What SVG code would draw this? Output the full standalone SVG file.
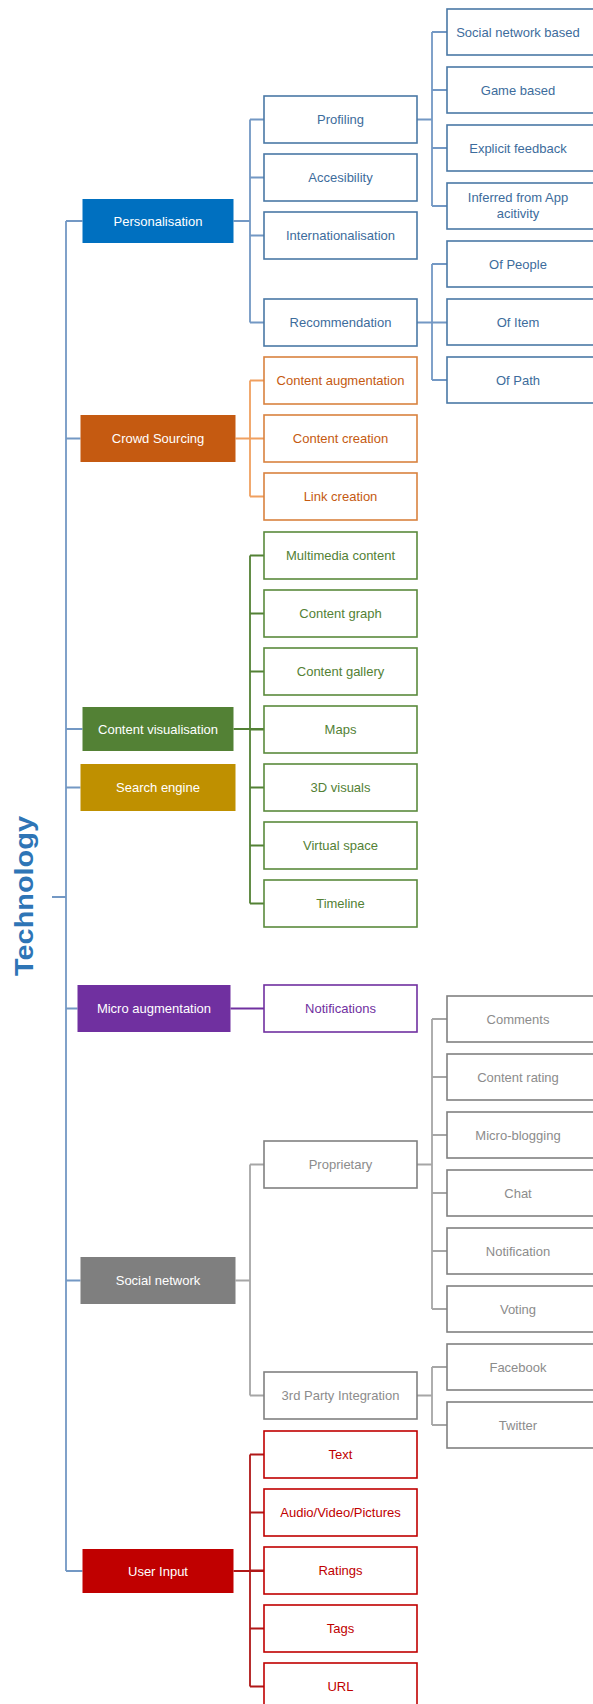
<svg xmlns="http://www.w3.org/2000/svg" width="593" height="1704" viewBox="0 0 593 1704">
<style>
text{font-family:"Liberation Sans",Arial,sans-serif;font-size:13px;text-anchor:middle}
.l1 text{fill:#fff}
.b rect{fill:#fff;stroke:#4a78a6;stroke-width:1.6} .b text{fill:#3d6c9c}
.o rect{fill:#fff;stroke:#d9823f;stroke-width:1.6} .o text{fill:#c55a11}
.g rect{fill:#fff;stroke:#5a8a3c;stroke-width:1.6} .g text{fill:#538135}
.p rect{fill:#fff;stroke:#7030a0;stroke-width:1.6} .p text{fill:#7030a0}
.k rect{fill:#fff;stroke:#808080;stroke-width:1.6} .k text{fill:#8c8c8c}
.r rect{fill:#fff;stroke:#c00000;stroke-width:1.6} .r text{fill:#c00000}
#connectors path{fill:none;stroke-width:1.8}
.cb{stroke:#7398c4} .co{stroke:#f0a060} .cg{stroke:#538135} .cp{stroke:#7030a0} .ck{stroke:#a6a6a6} .cr{stroke:#b01818}
</style>
<g id="connectors">
<path class="cb" d="M52 897H66M66 221V1571M66 221H82.5M66 438.5H80.5M66 729H82.5M66 787.5H80.5M66 1008.5H77.5M66 1280.5H80.5M66 1571H82.5"/>
<path class="cb" d="M233.5 221H250M250 119.5V322.5M250 119.5H264M250 177.5H264M250 235.5H264M250 322.5H264"/>
<path class="cb" d="M417 119.5H432M432 32V206M432 32H447M432 90H447M432 148H447M432 206H447"/>
<path class="cb" d="M417 322.5H447M432 264V380M432 264H447M432 380H447"/>
<path class="co" d="M235.5 438.5H264M250 380.5V496.5M250 380.5H264M250 496.5H264"/>
<path class="cg" d="M233.5 729H264M250 555.5V903.5M250 555.5H266M250 613.5H266M250 671.5H266M250 729.5H266M250 787.5H266M250 845.5H266M250 903.5H266"/>
<path class="cp" d="M230.5 1008.5H264"/>
<path class="ck" d="M235.5 1280.5H250M250 1164.5V1395.5M250 1164.5H264M250 1395.5H264"/>
<path class="ck" d="M417 1164.5H432M432 1019V1309M432 1019H447M432 1077H447M432 1135H447M432 1193H447M432 1251H447M432 1309H447"/>
<path class="ck" d="M417 1395.5H432M432 1367V1425M432 1367H447M432 1425H447"/>
<path class="cr" d="M233.5 1571H264M250 1454.5V1686.5M250 1454.5H266M250 1512.5H266M250 1570.5H266M250 1628.5H266M250 1686.5H266"/>
</g>
<g id="technology"><text transform="translate(33 896) rotate(-90)" style="font-size:25px;font-weight:bold;fill:#2e75b6" textLength="160" lengthAdjust="spacingAndGlyphs">Technology</text></g>
<g class="l1">
<g id="personalisation"><rect x="82.5" y="199" width="151" height="44" fill="#0070c0"/><text x="158" y="225.5">Personalisation</text></g>
<g id="crowd-sourcing"><rect x="80.5" y="415" width="155" height="47" fill="#c55a11"/><text x="158" y="443">Crowd Sourcing</text></g>
<g id="content-visualisation"><rect x="82.5" y="707" width="151" height="44" fill="#538135"/><text x="158" y="733.5">Content visualisation</text></g>
<g id="search-engine"><rect x="80.5" y="764" width="155" height="47" fill="#bf9000"/><text x="158" y="792">Search  engine</text></g>
<g id="micro-augmentation"><rect x="77.5" y="985" width="153" height="47" fill="#7030a0"/><text x="154" y="1013">Micro augmentation</text></g>
<g id="social-network"><rect x="80.5" y="1257" width="155" height="47" fill="#7f7f7f"/><text x="158" y="1285">Social network</text></g>
<g id="user-input"><rect x="82.5" y="1549" width="151" height="44" fill="#c00000"/><text x="158" y="1575.5">User Input</text></g>
</g>
<g class="b">
<g id="profiling"><rect x="264" y="96" width="153" height="47"/><text x="340.5" y="124">Profiling</text></g>
<g id="accesibility"><rect x="264" y="154" width="153" height="47"/><text x="340.5" y="182">Accesibility</text></g>
<g id="internationalisation"><rect x="264" y="212" width="153" height="47"/><text x="340.5" y="240">Internationalisation</text></g>
<g id="recommendation"><rect x="264" y="299" width="153" height="47"/><text x="340.5" y="327">Recommendation</text></g>
<g id="social-network-based"><rect x="447" y="9" width="160" height="46"/><text x="518" y="37">Social network based</text></g>
<g id="game-based"><rect x="447" y="67" width="160" height="46"/><text x="518" y="95">Game  based</text></g>
<g id="explicit-feedback"><rect x="447" y="125" width="160" height="46"/><text x="518" y="153">Explicit feedback</text></g>
<g id="inferred"><rect x="447" y="183" width="160" height="46"/><text x="518" y="201.5">Inferred  from  App</text><text x="518" y="217.5">acitivity</text></g>
<g id="of-people"><rect x="447" y="241" width="160" height="46"/><text x="518" y="269">Of People</text></g>
<g id="of-item"><rect x="447" y="299" width="160" height="46"/><text x="518" y="327">Of Item</text></g>
<g id="of-path"><rect x="447" y="357" width="160" height="46"/><text x="518" y="385">Of Path</text></g>
</g>
<g class="o">
<g id="content-augmentation"><rect x="264" y="357" width="153" height="47"/><text x="340.5" y="385">Content augmentation</text></g>
<g id="content-creation"><rect x="264" y="415" width="153" height="47"/><text x="340.5" y="443">Content creation</text></g>
<g id="link-creation"><rect x="264" y="473" width="153" height="47"/><text x="340.5" y="501">Link creation</text></g>
</g>
<g class="g">
<g id="multimedia-content"><rect x="264" y="532" width="153" height="47"/><text x="340.5" y="560">Multimedia  content</text></g>
<g id="content-graph"><rect x="264" y="590" width="153" height="47"/><text x="340.5" y="618">Content graph</text></g>
<g id="content-gallery"><rect x="264" y="648" width="153" height="47"/><text x="340.5" y="676">Content gallery</text></g>
<g id="maps"><rect x="264" y="706" width="153" height="47"/><text x="340.5" y="734">Maps</text></g>
<g id="visuals-3d"><rect x="264" y="764" width="153" height="47"/><text x="340.5" y="792">3D visuals</text></g>
<g id="virtual-space"><rect x="264" y="822" width="153" height="47"/><text x="340.5" y="850">Virtual  space</text></g>
<g id="timeline"><rect x="264" y="880" width="153" height="47"/><text x="340.5" y="908">Timeline</text></g>
</g>
<g class="p">
<g id="notifications"><rect x="264" y="985" width="153" height="47"/><text x="340.5" y="1013">Notifications</text></g>
</g>
<g class="k">
<g id="proprietary"><rect x="264" y="1141" width="153" height="47"/><text x="340.5" y="1169">Proprietary</text></g>
<g id="third-party"><rect x="264" y="1372" width="153" height="47"/><text x="340.5" y="1400">3rd Party Integration</text></g>
<g id="comments"><rect x="447" y="996" width="160" height="46"/><text x="518" y="1024">Comments</text></g>
<g id="content-rating"><rect x="447" y="1054" width="160" height="46"/><text x="518" y="1082">Content rating</text></g>
<g id="micro-blogging"><rect x="447" y="1112" width="160" height="46"/><text x="518" y="1140">Micro-blogging</text></g>
<g id="chat"><rect x="447" y="1170" width="160" height="46"/><text x="518" y="1198">Chat</text></g>
<g id="notification"><rect x="447" y="1228" width="160" height="46"/><text x="518" y="1256">Notification</text></g>
<g id="voting"><rect x="447" y="1286" width="160" height="46"/><text x="518" y="1314">Voting</text></g>
<g id="facebook"><rect x="447" y="1344" width="160" height="46"/><text x="518" y="1372">Facebook</text></g>
<g id="twitter"><rect x="447" y="1402" width="160" height="46"/><text x="518" y="1430">Twitter</text></g>
</g>
<g class="r">
<g id="text"><rect x="264" y="1431" width="153" height="47"/><text x="340.5" y="1459">Text</text></g>
<g id="audio-video"><rect x="264" y="1489" width="153" height="47"/><text x="340.5" y="1517">Audio/Video/Pictures</text></g>
<g id="ratings"><rect x="264" y="1547" width="153" height="47"/><text x="340.5" y="1575">Ratings</text></g>
<g id="tags"><rect x="264" y="1605" width="153" height="47"/><text x="340.5" y="1633">Tags</text></g>
<g id="url"><rect x="264" y="1663" width="153" height="47"/><text x="340.5" y="1691">URL</text></g>
</g>
</svg>
